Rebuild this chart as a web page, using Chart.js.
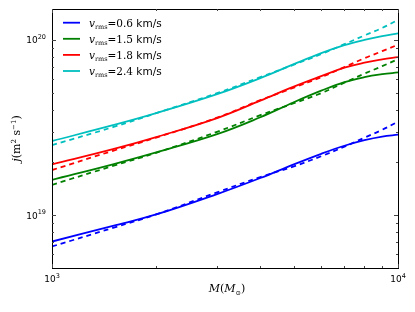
<!DOCTYPE html>
<html>
<head>
<meta charset="utf-8">
<script src="https://cdn.jsdelivr.net/npm/chart.js@4.4.1/dist/chart.umd.min.js"></script>
<style>
  html, body { margin: 0; padding: 0; background: #fff; }
  #wrap { width: 415px; height: 312px; position: relative; }
</style>
</head>
<body>
<div id="wrap"><canvas id="chartCanvas"></canvas></div>
<script>
// M in solar masses
const masses = [1000, 1500, 2000, 3000, 4000, 5000, 6000, 7000, 8000, 9000, 10000];

// j (m^2 s^-1), solid = model, dashed = fit
const j06 = [7.08e18, 8.69e18, 1.01e19, 1.32e19, 1.63e19, 1.95e19, 2.24e19, 2.49e19, 2.68e19, 2.81e19, 2.88e19];
const j06fit = [6.63e18, 8.47e18, 1.01e19, 1.35e19, 1.65e19, 1.90e19, 2.17e19, 2.46e19, 2.77e19, 3.07e19, 3.42e19];
const j15 = [1.59e19, 1.95e19, 2.28e19, 2.90e19, 3.62e19, 4.41e19, 5.13e19, 5.74e19, 6.13e19, 6.37e19, 6.52e19];
const j15fit = [1.49e19, 1.91e19, 2.27e19, 2.99e19, 3.72e19, 4.35e19, 4.97e19, 5.70e19, 6.42e19, 7.08e19, 7.76e19];
const j18 = [1.95e19, 2.38e19, 2.79e19, 3.58e19, 4.50e19, 5.41e19, 6.21e19, 6.94e19, 7.41e19, 7.73e19, 7.97e19];
const j18fit = [1.81e19, 2.33e19, 2.77e19, 3.60e19, 4.53e19, 5.34e19, 6.13e19, 6.99e19, 7.86e19, 8.62e19, 9.39e19];
const j24 = [2.65e19, 3.26e19, 3.82e19, 4.90e19, 6.05e19, 7.27e19, 8.40e19, 9.33e19, 1.00e20, 1.05e20, 1.09e20];
const j24fit = [2.51e19, 3.18e19, 3.82e19, 4.97e19, 6.13e19, 7.22e19, 8.29e19, 9.45e19, 1.06e20, 1.17e20, 1.30e20];

const vrms = ['0.6', '1.5', '1.8', '2.4'];
const colors = ['#0000ff', '#008000', '#ff0000', '#00bfbf'];

const xTicksMajor = [1000, 10000];
const xTicksMinor = [2000, 3000, 4000, 5000, 6000, 7000, 8000, 9000];
const yTicksMajor = [1e19, 1e20];
const yTicksMinor = [6e18, 7e18, 8e18, 9e18, 2e19, 3e19, 4e19, 5e19, 6e19, 7e19, 8e19, 9e19];

const pts = (arr) => masses.map((m, i) => ({ x: m, y: arr[i] }));

const solid = [j06, j15, j18, j24];
const dashed = [j06fit, j15fit, j18fit, j24fit];
const datasets = [];
solid.forEach((arr, k) => {
  datasets.push({ label: vrms[k], data: pts(arr), borderColor: colors[k], borderWidth: 1.8, pointRadius: 0, tension: 0.4, fill: false });
  datasets.push({ label: '', data: pts(dashed[k]), borderColor: colors[k], borderWidth: 1.8, borderDash: [5, 4], pointRadius: 0, tension: 0.4, fill: false });
});

const SANS = '"DejaVu Sans", sans-serif';
const SERIF = '"DejaVu Serif", serif';

// frame, inward ticks, tick labels, axis titles and legend, matplotlib style
const decor = {
  id: 'decor',
  afterDraw(c) {
    const ctx = c.ctx, a = c.chartArea, xs = c.scales.x, ys = c.scales.y;
    ctx.save();
    ctx.strokeStyle = '#000';
    ctx.lineWidth = 1;
    ctx.strokeRect(Math.round(a.left) + 0.5, Math.round(a.top) + 0.5, Math.round(a.right - a.left), Math.round(a.bottom - a.top));
    const tick = (vals, len, isX) => {
      ctx.beginPath();
      vals.forEach(v => {
        if (isX) {
          const px = Math.round(xs.getPixelForValue(v)) + 0.5;
          ctx.moveTo(px, a.bottom); ctx.lineTo(px, a.bottom - len);
          ctx.moveTo(px, a.top); ctx.lineTo(px, a.top + len);
        } else {
          const py = Math.round(ys.getPixelForValue(v)) + 0.5;
          ctx.moveTo(a.left, py); ctx.lineTo(a.left + len, py);
          ctx.moveTo(a.right, py); ctx.lineTo(a.right - len, py);
        }
      });
      ctx.stroke();
    };
    ctx.strokeStyle = '#444';
    tick(xTicksMinor, 2, true); tick(yTicksMinor, 2, false);
    tick(xTicksMajor, 4, true); tick(yTicksMajor, 4, false);

    // power-of-ten labels
    const pow10 = (exp, x, y, align) => {
      ctx.fillStyle = '#000';
      ctx.textBaseline = 'alphabetic';
      ctx.font = '9px ' + SANS;
      const w1 = ctx.measureText('10').width;
      ctx.font = '6.5px ' + SANS;
      const w2 = ctx.measureText(exp).width;
      let x0 = align === 'right' ? x - w1 - w2 : x - (w1 + w2) / 2;
      ctx.font = '9px ' + SANS; ctx.textAlign = 'left';
      ctx.fillText('10', x0, y);
      ctx.font = '6.5px ' + SANS;
      ctx.fillText(exp, x0 + w1, y - 4.5);
    };
    yTicksMajor.forEach(v => pow10(String(Math.round(Math.log10(v))), a.left - 6, ys.getPixelForValue(v) + 3.5, 'right'));
    xTicksMajor.forEach(v => pow10(String(Math.round(Math.log10(v))), xs.getPixelForValue(v), a.bottom + 14, 'center'));

    // axis titles
    ctx.fillStyle = '#000';
    ctx.textBaseline = 'alphabetic';
    const runs = (parts, x, y) => {
      let cx = x;
      parts.forEach(p => { ctx.font = p[1]; ctx.fillText(p[0], cx, y + (p[2] || 0)); cx += ctx.measureText(p[0]).width; });
      return cx - x;
    };
    const width = (parts) => parts.reduce((s, p) => { ctx.font = p[1]; return s + ctx.measureText(p[0]).width; }, 0);
    ctx.textAlign = 'left';
    const xt = [['M', 'italic 11px ' + SERIF], ['(', '11px ' + SERIF], ['M', 'italic 11px ' + SERIF], ['\u2299', '6.5px ' + SERIF, 3], [')', '11px ' + SERIF]];
    runs(xt, (a.left + a.right) / 2 - width(xt) / 2 + 2, 292);
    const yt = [['j', 'italic 11px ' + SERIF], ['(m', '11px ' + SERIF], ['2', '7px ' + SERIF, -4.5], [' s', '11px ' + SERIF], ['\u22121', '7px ' + SERIF, -4.5], [')', '11px ' + SERIF]];
    ctx.save();
    ctx.translate(20, (a.top + a.bottom) / 2);
    ctx.rotate(-Math.PI / 2);
    runs(yt, -width(yt) / 2, 0);
    ctx.restore();

    // legend (solid lines only)
    let ly = 22.7;
    c.data.datasets.forEach(ds => {
      if (!ds.label) return;
      ctx.strokeStyle = ds.borderColor; ctx.lineWidth = 1.8; ctx.setLineDash([]);
      ctx.beginPath(); ctx.moveTo(63, ly); ctx.lineTo(80, ly); ctx.stroke();
      ctx.fillStyle = '#000';
      runs([['v', 'italic 10.5px ' + SERIF], ['rms', '6.5px ' + SERIF, 2], ['=' + ds.label, '10.5px ' + SERIF], [' km/s', '10.5px ' + SANS]], 89, ly + 3.8);
      ly += 16.1;
    });
    ctx.restore();
  }
};

new Chart(document.getElementById('chartCanvas'), {
  type: 'line',
  data: { datasets },
  options: {
    responsive: true,
    maintainAspectRatio: false,
    animation: false,
    layout: { padding: { left: 52, right: 17, top: 9, bottom: 44 } },
    plugins: { legend: { display: false }, tooltip: { enabled: false } },
    scales: {
      x: { type: 'logarithmic', min: 1000, max: 10000, display: false },
      y: { type: 'logarithmic', min: 5e18, max: 1.5e20, display: false }
    }
  },
  plugins: [decor]
});
</script>
</body>
</html>
